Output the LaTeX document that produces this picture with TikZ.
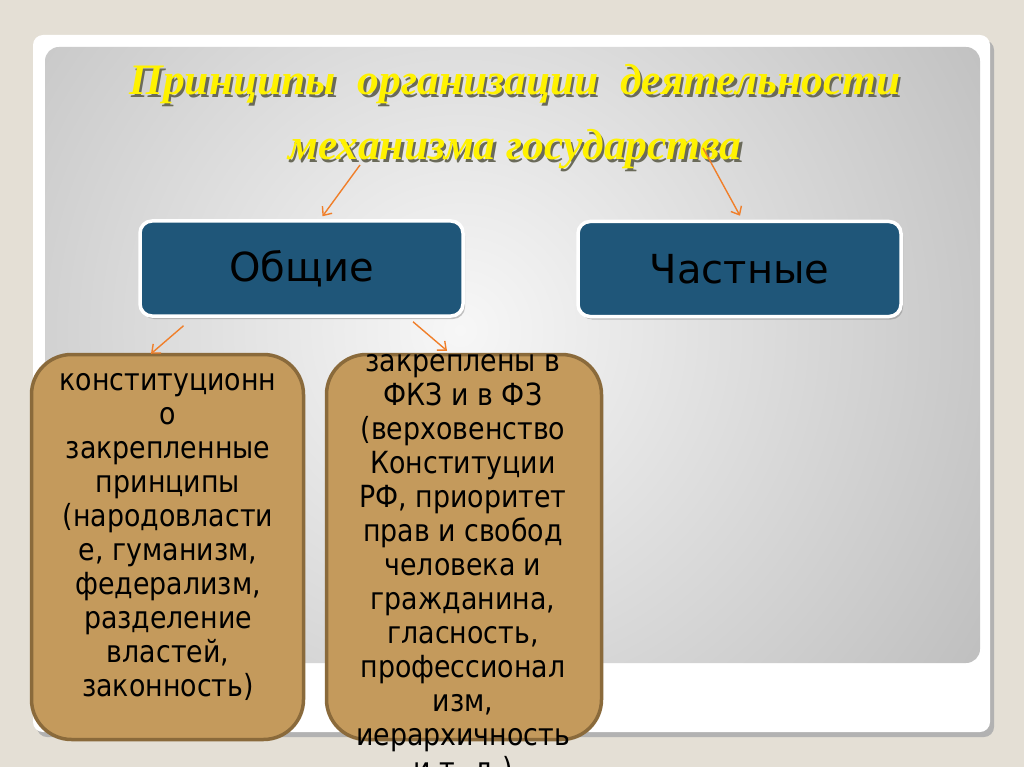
\documentclass[tikz,border=0pt]{standalone}
\usepackage{fontspec}
\setmainfont{DejaVu Sans}
\newfontfamily\boxfont[FakeStretch=0.88]{DejaVu Sans}
\newfontfamily\titlefont{Liberation Serif}
\usetikzlibrary{shadows,arrows.meta}

\definecolor{bgbeige}{HTML}{E4DFD5}
\definecolor{panelgray}{HTML}{989898}
\definecolor{panellight}{HTML}{F7F7F7}
\definecolor{boxblue}{HTML}{1F5679}
\definecolor{boxtan}{HTML}{C49A5C}
\definecolor{tanedge}{HTML}{8A6A3B}
\definecolor{arrorange}{HTML}{F07F2A}
\definecolor{titleshade}{HTML}{6A6A5A}

% text with a dark copy behind it
\newcommand{\shadowed}[1]{\rlap{\kern2.5pt\raisebox{-2.5pt}{\textcolor{titleshade}{#1}}}#1}

\tikzset{
  bluebox/.style={draw=white, line width=3.5pt, fill=boxblue, rounded corners=12pt,
    minimum width=323pt, minimum height=95pt, font=\fontsize{40}{48}\selectfont,
    drop shadow={opacity=0.45, shadow xshift=2pt, shadow yshift=-3pt}},
  tanbox/.style={draw=tanedge, line width=3.5pt, fill=boxtan, rounded corners=40pt},
  tantext/.style={align=center, font=\boxfont\fontsize{30.5}{34}\selectfont, inner sep=0pt},
  titletext/.style={align=center, text=yellow, font=\titlefont\bfseries\itshape\fontsize{43.5}{65}\selectfont},
  arr/.style={draw=arrorange, line width=1.4pt, -{Straight Barb[length=7pt,width=12pt]}}
}

\begin{document}
\begin{tikzpicture}[x=1pt,y=-1pt]

	\useasboundingbox (0,0) rectangle (1024,767);
	\fill[bgbeige] (0,0) rectangle (1024,767);

	% card and panel
	\fill[black!30, rounded corners=10pt] (37,40) rectangle (994,737);
	\fill[white, rounded corners=10pt] (33,35) rectangle (990,732);
	\begin{scope}
		\clip[rounded corners=14pt] (45,47) rectangle (980,663);
		\shade[inner color=panellight, outer color=panelgray] (460,330) circle (1050);
	\end{scope}

	% title
	\node[titletext] (T) at (515,118) {\shadowed{Принципы\ \ организации\ \ деятельности}\\\shadowed{механизма государства}};

	% blue boxes
	\node[bluebox] (G) at (301.5,268.5) {Общие};
	\node[bluebox] (P) at (739.5,269) {Частные};

	% tan boxes
	\node[tanbox, minimum width=272pt, minimum height=385pt] (L1) at (167.5,547) {};
	\node[tanbox, minimum width=275pt, minimum height=385pt] (L2) at (464,547) {};

	\node[tantext] (X1) at (168,537) {конституционн\\о\\закрепленные\\принципы\\(народовласти\\е, гуманизм,\\федерализм,\\разделение\\властей,\\законность)};
	\node[tantext] (X2) at (463,569) {закреплены в\\ФКЗ и в ФЗ\\(верховенство\\Конституции\\РФ, приоритет\\прав и свобод\\человека и\\гражданина,\\гласность,\\профессионал\\изм,\\иерархичность\\и т. д.)};

	% arrows
	\coordinate (T1) at (360,165);
	\coordinate (T2) at (703,148);
	\draw[arr] (T1) -- ([xshift=21pt,yshift=3pt]G.north);
	\draw[arr] (T2) -- ([xshift=0.5pt,yshift=4pt]P.north);
	\draw[arr] ([xshift=-118pt,yshift=-8pt]G.south) -- ([xshift=-16.5pt,yshift=-1pt]L1.north);
	\draw[arr] ([xshift=111.5pt,yshift=-4pt]G.south) -- ([xshift=-17pt,yshift=2pt]L2.north);

\end{tikzpicture}
\end{document}
